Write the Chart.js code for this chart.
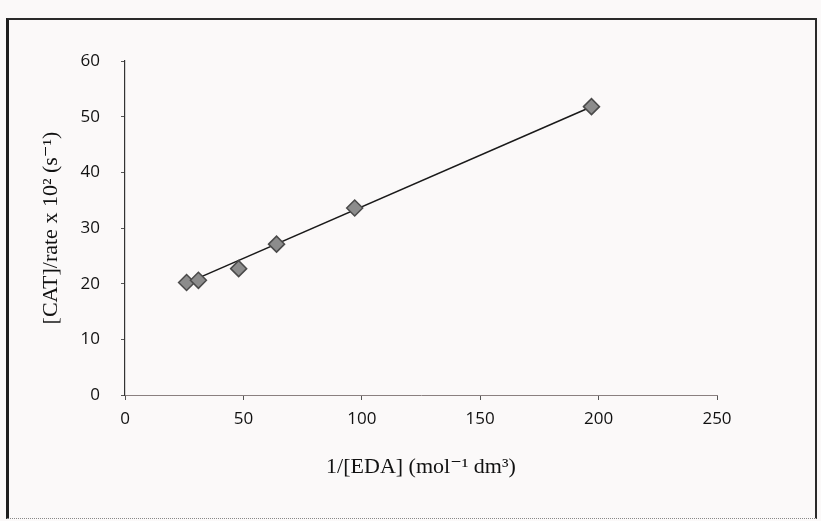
<!DOCTYPE html>
<html lang="en">
<head>
    <meta charset="UTF-8">
    <title>[CAT]/rate vs 1/[EDA]</title>
    <script src="https://cdn.jsdelivr.net/npm/chart.js"></script>
    <style>
        body {
            margin: 0;
            background-color: #fbf9f9;
            width: 821px;
            height: 521px;
            overflow: hidden;
            position: relative;
        }
        .frame {
            position: absolute;
            left: 6px;
            top: 18px;
            width: 806px;
            height: 498px;
            border-left: 3px solid #1e1e1e;
            border-top: 2px solid #2a2a2a;
            border-right: 2px solid #2a2a2a;
            border-bottom: 1px dotted #888;
        }
        #chartBox {
            position: absolute;
            left: 0;
            top: 0;
            width: 821px;
            height: 521px;
        }
    </style>
</head>
<body>
    <div class="frame"></div>
    <div id="chartBox"><canvas id="plot"></canvas></div>

    <script>
        const edaInv = [26, 31, 48, 64, 97, 197];
        const catRate = [20.2, 20.6, 22.7, 27.1, 33.6, 51.8];
        // fitted line ends
        const fitX = [26, 197];
        const fitY = [20.1, 51.8];
        const xTicks = [0, 50, 100, 150, 200, 250];
        const yTicks = [0, 10, 20, 30, 40, 50, 60];

        const tickFont = { family: "'Open Sans', 'Liberation Sans', sans-serif", size: 17 };
        const titleFont = { family: "'Liberation Serif', 'DejaVu Serif', serif", size: 22 };

        const ctx = document.getElementById('plot').getContext('2d');
        new Chart(ctx, {
            type: 'scatter',
            data: {
                datasets: [{
                    label: 'data',
                    data: edaInv.map((x, i) => ({ x: x, y: catRate[i] })),
                    pointStyle: 'rectRot',
                    pointRadius: 8,
                    backgroundColor: '#8c8c8c',
                    borderColor: '#4a4a4a',
                    borderWidth: 1.5,
                    showLine: false
                }, {
                    label: 'fit',
                    type: 'line',
                    data: fitX.map((x, i) => ({ x: x, y: fitY[i] })),
                    borderColor: '#1a1a1a',
                    borderWidth: 1.6,
                    pointRadius: 0,
                    fill: false
                }]
            },
            options: {
                responsive: true,
                maintainAspectRatio: false,
                animation: false,
                layout: { padding: { left: 38, right: 104, top: 61, bottom: 41 } },
                plugins: { legend: { display: false }, tooltip: { enabled: false } },
                scales: {
                    x: {
                        type: 'linear',
                        min: 0,
                        max: 250,
                        afterBuildTicks: s => { s.ticks = xTicks.map(v => ({ value: v })); },
                        afterFit: s => { s.height = 85; },
                        border: { display: true, color: '#8a8080', width: 1 },
                        grid: { drawOnChartArea: false, drawTicks: true, tickLength: 5, color: '#555' },
                        ticks: { color: '#111', font: tickFont, padding: 9 },
                        title: {
                            display: true,
                            text: '1/[EDA] (mol⁻¹ dm³)',
                            color: '#111',
                            font: titleFont,
                            padding: 0
                        }
                    },
                    y: {
                        type: 'linear',
                        min: 0,
                        max: 60,
                        afterBuildTicks: s => { s.ticks = yTicks.map(v => ({ value: v })); },
                        afterFit: s => { s.width = 87; },
                        border: { display: true, color: '#333', width: 1.2 },
                        grid: { drawOnChartArea: false, drawTicks: true, tickLength: 4, color: '#555' },
                        ticks: { color: '#111', font: tickFont, padding: 21 },
                        title: {
                            display: true,
                            text: '[CAT]/rate x 10² (s⁻¹)',
                            color: '#111',
                            font: titleFont,
                            padding: 0
                        }
                    }
                }
            }
        });
    </script>
</body>
</html>
